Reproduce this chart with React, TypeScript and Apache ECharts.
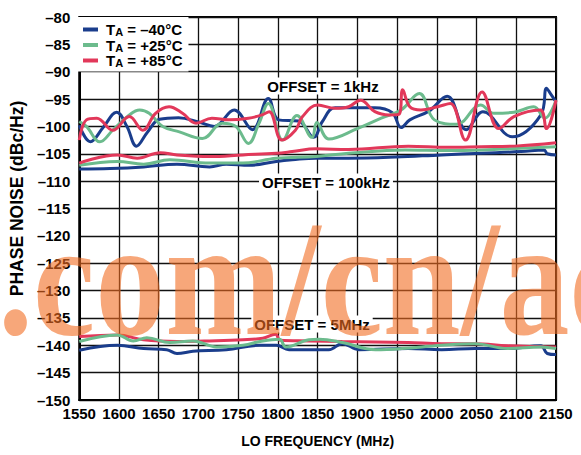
import React, { useEffect, useRef } from "react";
import * as echarts from "echarts";

type Pt = [number, number];

// LO frequency (MHz) vs phase noise (dBc/Hz)
const blue1k: Pt[] = [[1550,-99.8],[1564,-102.8],[1580,-100.2],[1597,-97.4],[1610,-100],[1622,-103.6],[1636,-101],[1651,-98.7],[1675,-98.4],[1700,-99.2],[1720,-100],[1745,-97],[1768,-100.6],[1788,-94.9],[1801,-98.8],[1826,-99],[1845,-102],[1856,-99.1],[1872,-96.6],[1922,-96.6],[1944,-97.5],[1955,-100.2],[1966,-98.8],[1990,-97.2],[2013,-94.5],[2037,-100.6],[2058,-97.3],[2095,-101.9],[2131,-97.9],[2138,-93],[2143,-94],[2150,-95.5]];
const green1k: Pt[] = [[1550,-99.1],[1559,-100],[1576,-102.8],[1592,-100.7],[1613,-97.9],[1626,-97.0],[1638,-97.6],[1655,-100],[1676,-101],[1705,-102.2],[1730,-99.4],[1747,-100],[1763,-103.1],[1776,-99.5],[1788,-95.8],[1806,-102.5],[1824,-98],[1843,-102],[1849,-99.3],[1864,-102.3],[1900,-100.4],[1930,-98.5],[1955,-97],[1978,-94],[1997,-98.8],[2025,-99.6],[2055,-96.1],[2072,-97.6],[2097,-97.4],[2122,-96.4],[2136,-98.5],[2150,-95.2]];
const red1k: Pt[] = [[1550,-102.5],[1559,-98.8],[1572,-98.5],[1592,-100.7],[1613,-98.2],[1630,-100.7],[1646,-97.6],[1663,-96.4],[1680,-97.6],[1697,-99.4],[1717,-98.5],[1738,-98.8],[1763,-98.5],[1780,-97.9],[1789,-97.3],[1805,-102.5],[1822,-100.7],[1831,-98.2],[1850,-96.1],[1872,-96.7],[1889,-96.4],[1904,-95.2],[1922,-97.3],[1940,-97.9],[1952,-97.8],[1957,-93.3],[1966,-96.4],[1980,-97.0],[2001,-96.4],[2017,-95.8],[2036,-102.5],[2057,-93.7],[2078,-100.4],[2097,-98.2],[2130,-97.0],[2138,-100.4],[2150,-95.2]];

const blue100k: Pt[] = [[1550,-107.8],[1589,-107.7],[1631,-107.4],[1673,-106.9],[1714,-107.4],[1735,-106.9],[1764,-107.1],[1798,-106.4],[1818,-106.1],[1848,-105.8],[1889,-105.8],[1948,-105.6],[2006,-105.2],[2056,-104.9],[2106,-104.6],[2135,-104.3],[2139,-105],[2150,-105.2]];
const green100k: Pt[] = [[1550,-107.1],[1598,-106.4],[1631,-106.9],[1664,-106.1],[1714,-106.7],[1756,-106.7],[1798,-105.8],[1848,-105.5],[1889,-104.9],[1960,-104.3],[2014,-104.4],[2056,-104.3],[2106,-104.0],[2150,-103.7]];
const red100k: Pt[] = [[1550,-106.7],[1598,-105.2],[1623,-105.8],[1652,-104.8],[1673,-105.2],[1714,-105.5],[1756,-105.2],[1798,-104.9],[1818,-104.6],[1848,-104.1],[1889,-104.2],[1964,-103.6],[2014,-103.8],[2056,-103.7],[2098,-103.6],[2150,-103]];

const blue5M: Pt[] = [[1550,-140.9],[1598,-140],[1631,-140.6],[1660,-140.8],[1673,-141.5],[1693,-141.1],[1735,-140.8],[1777,-140.0],[1798,-140],[1814,-140.8],[1864,-140.8],[1881,-139.7],[1902,-140.8],[1964,-140.6],[2006,-140.8],[2048,-140.6],[2089,-140.6],[2131,-140.1],[2139,-141.5],[2150,-141.7]];
const green5M: Pt[] = [[1550,-139.3],[1598,-138.1],[1618,-139.2],[1635,-138.6],[1664,-139.5],[1693,-139.2],[1723,-140.3],[1756,-140],[1781,-139.2],[1802,-138.9],[1810,-140.3],[1839,-139.0],[1852,-138.9],[1881,-139.5],[1923,-140.8],[1956,-140.6],[2006,-140],[2048,-139.7],[2089,-140.6],[2131,-140.3],[2150,-140.6]];
const red5M: Pt[] = [[1550,-138.4],[1598,-138.1],[1631,-139],[1673,-139.3],[1714,-139.2],[1756,-139],[1781,-138.7],[1797,-138.0],[1803,-139.1],[1839,-139.2],[1881,-139.3],[1964,-139.5],[2006,-139.7],[2048,-139.7],[2089,-140.1],[2150,-140.3]];

const legendNames = ["TA = \u201340°C", "TA = +25°C", "TA = +85°C"];
const offsetLabels = ["OFFSET = 1kHz", "OFFSET = 100kHz", "OFFSET = 5MHz"];
const xAxisTitle = "LO FREQUENCY (MHz)";
const yAxisTitle = "PHASE NOISE (dBc/Hz)";
const watermark = ".com/cn/ac";

const COLORS = ["#1a3d8c", "#6cbb8d", "#e2385a"];
const FONT = '"Liberation Sans", Arial, Helvetica, sans-serif';

export default function App() {
  const ref = useRef<HTMLDivElement>(null);
  useEffect(() => {
    if (!ref.current) return;
    const chart = echarts.init(ref.current, null, { renderer: "svg" });
    const mk = (name: string, color: string, data: Pt[]) => ({
      type: "line",
      name,
      data,
      smooth: 0.4,
      showSymbol: false,
      symbol: "none",
      lineStyle: { color, width: 3 },
      itemStyle: { color },
      z: 3,
    });
    const series = [
      mk(legendNames[0], COLORS[0], blue1k),
      mk(legendNames[1], COLORS[1], green1k),
      mk(legendNames[2], COLORS[2], red1k),
      mk(legendNames[0], COLORS[0], blue100k),
      mk(legendNames[1], COLORS[1], green100k),
      mk(legendNames[2], COLORS[2], red100k),
      mk(legendNames[0], COLORS[0], blue5M),
      mk(legendNames[2], COLORS[2], red5M),
      mk(legendNames[1], COLORS[1], green5M),
    ];
    const labelStyle = (text: string) => ({
      text,
      font: `bold 15px ${FONT}`,
      fill: "#000",
      align: "center",
      verticalAlign: "middle",
      backgroundColor: "#fff",
      padding: [1, 3, 1, 3],
    });
    chart.setOption({
      animation: false,
      backgroundColor: "#fff",
      grid: { left: 76, right: 25, top: 17, bottom: 55, show: true, borderColor: "#000", borderWidth: 2, backgroundColor: "transparent" },
      legend: {
        data: legendNames,
        orient: "vertical",
        left: 76,
        top: 17,
        padding: [5, 6, 3, 7],
        itemGap: 0,
        itemWidth: 15,
        itemHeight: 4,
        icon: "rect",
        backgroundColor: "#fff",
        z: 10,
        formatter: (n: string) => `{t|T}{s|A}{t|${n.slice(2)}}`,
        textStyle: {
          padding: [0, 0, 0, 3],
          rich: {
            t: { fontSize: 15, fontWeight: "bold", fontFamily: FONT, color: "#000", lineHeight: 16 },
            s: { fontSize: 11, fontWeight: "bold", fontFamily: FONT, color: "#000", lineHeight: 8, verticalAlign: "bottom" },
          },
        },
      },
      xAxis: {
        type: "value",
        min: 1550,
        max: 2150,
        interval: 50,
        name: xAxisTitle,
        nameLocation: "middle",
        nameGap: 34,
        nameTextStyle: { fontSize: 14, fontWeight: "bold", fontFamily: FONT, color: "#000" },
        axisLine: { lineStyle: { color: "#000", width: 2 } },
        axisTick: { show: false },
        axisLabel: { fontSize: 15, fontWeight: "bold", fontFamily: FONT, color: "#000", margin: 6, formatter: (v: number) => String(v) },
        splitLine: { show: true, lineStyle: { color: "#111", width: 1.3 } },
      },
      yAxis: {
        type: "value",
        min: -150,
        max: -80,
        interval: 5,
        name: yAxisTitle,
        nameLocation: "middle",
        nameRotate: 90,
        nameGap: 46,
        nameTextStyle: { fontSize: 17.5, fontWeight: "bold", fontFamily: FONT, color: "#000", padding: [0, 0, 0, 20] },
        axisLine: { show: true, lineStyle: { color: "#000", width: 2 } },
        axisTick: { show: false },
        axisLabel: {
          fontSize: 15,
          fontWeight: "bold",
          fontFamily: FONT,
          color: "#000",
          margin: 9,
          formatter: (v: number) => (v < 0 ? "\u2013" + Math.abs(v) : String(v)),
        },
        splitLine: { show: true, lineStyle: { color: "#111", width: 1.3 } },
      },
      graphic: [
        { type: "text", x: 323, y: 86, z: 20, style: labelStyle(offsetLabels[0]) },
        { type: "text", x: 326, y: 182, z: 20, style: labelStyle(offsetLabels[1]) },
        { type: "text", x: 312, y: 324, z: 20, style: labelStyle(offsetLabels[2]) },
        {
          type: "group",
          x: -2,
          y: 361,
          scaleY: 1.18,
          z: 100,
          children: [
            {
              type: "text",
              x: 0,
              y: 0,
              z: 100,
              style: {
                text: watermark,
                font: 'bold 140px "Liberation Serif", "Times New Roman", serif',
                fill: "#f26d21",
                opacity: 0.6,
                verticalAlign: "bottom",
                align: "left",
              },
            },
          ],
        },
      ],
      series,
    });
    return () => chart.dispose();
  }, []);
  return <div ref={ref} style={{ position: "absolute", left: 0, top: 0, width: 581, height: 455 }} />;
}
